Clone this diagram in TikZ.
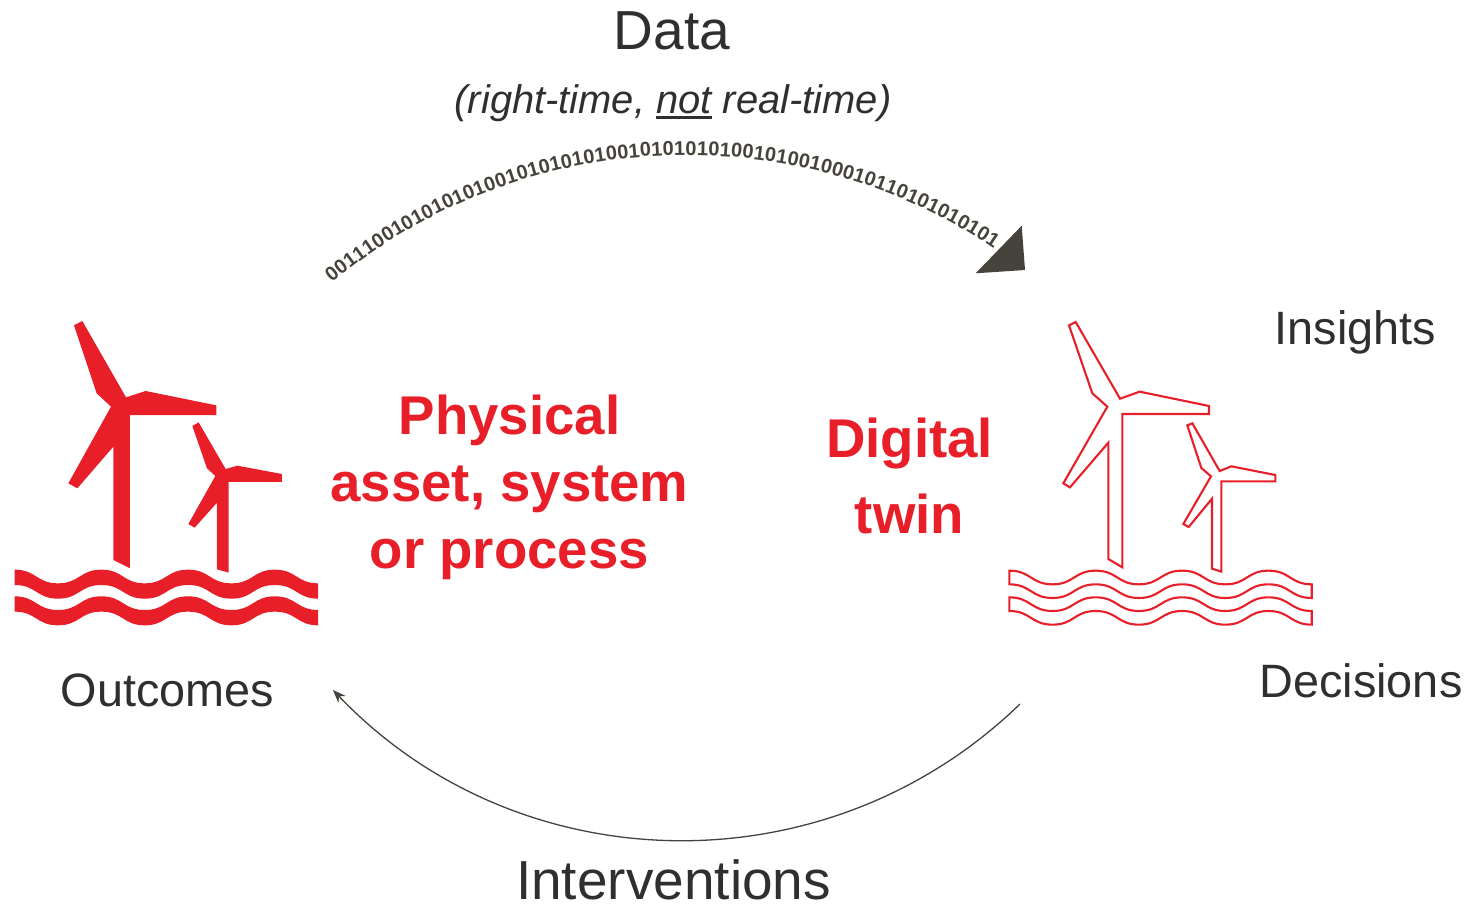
\documentclass[tikz,border=0pt]{standalone}
\usepackage{fontspec}
\setmainfont{Liberation Sans}
\usetikzlibrary{arrows.meta,decorations.text}
\definecolor{assetred}{HTML}{E81F29}
\definecolor{labeltxt}{HTML}{2F2F2F}
\definecolor{arrowgrey}{HTML}{46423C}
\newsavebox\notbox
\newcommand{\ulnot}{\sbox\notbox{not}\rlap{\rule[-5.2pt]{\wd\notbox}{2.8pt}}\usebox\notbox}
\newcommand{\waveband}[4]{% x0, ytop, half period, amplitude; thickness in \wavethick
  (#1,#2)
  .. controls +({#3/2},0) and +({-#3/2},0) .. ++(#3,#4)
  .. controls +({#3/2},0) and +({-#3/2},0) .. ++(#3,-#4)
  .. controls +({#3/2},0) and +({-#3/2},0) .. ++(#3,#4)
  .. controls +({#3/2},0) and +({-#3/2},0) .. ++(#3,-#4)
  .. controls +({#3/2},0) and +({-#3/2},0) .. ++(#3,#4)
  .. controls +({#3/2},0) and +({-#3/2},0) .. ++(#3,-#4)
  .. controls +({#3/2},0) and +({-#3/2},0) .. ++(#3,#4)
  -- ++(0,\wavethick)
  .. controls +({-#3/2},0) and +({#3/2},0) .. ++(-#3,-#4)
  .. controls +({-#3/2},0) and +({#3/2},0) .. ++(-#3,#4)
  .. controls +({-#3/2},0) and +({#3/2},0) .. ++(-#3,-#4)
  .. controls +({-#3/2},0) and +({#3/2},0) .. ++(-#3,#4)
  .. controls +({-#3/2},0) and +({#3/2},0) .. ++(-#3,-#4)
  .. controls +({-#3/2},0) and +({#3/2},0) .. ++(-#3,#4)
  .. controls +({-#3/2},0) and +({#3/2},0) .. ++(-#3,-#4)
  -- cycle}
\tikzset{
  solidicon/.style={fill=assetred,draw=none},
  outlineicon/.style={fill=white,draw=assetred,line width=2.1pt,line join=miter},
  lbl/.style={inner sep=0pt,anchor=base,text=labeltxt,font=\fontsize{46.8}{50}\selectfont},
  biglbl/.style={inner sep=0pt,anchor=base,text=labeltxt,font=\fontsize{55}{60}\selectfont},
  sublbl/.style={inner sep=0pt,anchor=base,text=labeltxt,font=\fontsize{39.9}{46}\selectfont\itshape},
  redlbl/.style={inner sep=0pt,align=center,text=assetred,font=\fontsize{54.6}{#1}\selectfont\bfseries},
  flow/.style={draw=arrowgrey,line width=1.3pt,-{Stealth[length=13pt,width=10pt]}},
}
\begin{document}
\begin{tikzpicture}[x=1pt,y=-1pt]
\useasboundingbox (0,0) rectangle (1470,904);

% Physical asset icon
\begin{scope}[shift={(0,310)},x=0.33333pt,y=-0.33333pt]
  \fill[solidicon] (222,46) -- (247,33) -- (378,262) -- (437,243) -- (649,286) -- (649,315) -- (390,315) -- (390,775) -- (340,750) -- (340,410) -- (232,535) -- (205,520) -- (333,290) -- (290,250) -- cycle;
  \fill[solidicon] (577,348) -- (596,337) -- (677,477) -- (712,467) -- (846,492) -- (846,516) -- (686,516) -- (686,788) -- (651,778) -- (651,578) -- (584,653) -- (565,642) -- (646,498) -- (621,475) -- cycle;
  \def\wavethick{46}
  \fill[solidicon] \waveband{44}{779}{130.1}{41};
  \fill[solidicon] \waveband{44}{859}{130.1}{41};
\end{scope}

% Digital twin icon
\begin{scope}[shift={(1000,310)},x=0.33333pt,y=-0.33333pt]
  \path[outlineicon] (207,46) -- (227,36) -- (360,266) -- (419,245) -- (627,288) -- (627,312) -- (367,312) -- (367,772) -- (325,747) -- (325,398) -- (210,532) -- (190,520) -- (322,290) -- (277,250) -- cycle;
  \path[outlineicon] (562,346) -- (577,340) -- (659,483) -- (694,469) -- (826,495) -- (826,514) -- (664,514) -- (664,785) -- (636,776) -- (636,566) -- (566,651) -- (550,642) -- (633,499) -- (604,474) -- cycle;
  \def\wavethick{41}
  \path[outlineicon] \waveband{28}{782}{129.6}{41};
  \path[outlineicon] \waveband{28}{862}{129.6}{41};
\end{scope}

% Labels
\node[biglbl] (data) at (672,50) {Data};
\node[sublbl] (datasub) at (673,114) {(right-time, \ulnot{} real-time)};
\node[lbl] (insights) at (1355.5,344.5) {Insights};
\node[lbl] (decisions) at (1361,697.5) {Decisions};
\node[lbl] (outcomes) at (167.5,706.5) {Outcomes};
\node[biglbl] (interventions) at (673.5,899) {Interventions};
\node[redlbl=67] (physical) at (509.5,487.5) {Physical\\asset, system\\or process};
\node[redlbl=76] (twin) at (909.5,476) {Digital\\twin};

% Data stream
\coordinate (streamstart) at (332,283);
\coordinate (streamend) at (993,248);
\path[decorate,decoration={text along path,text align=fit to path,
  text={|\fontsize{20}{20}\selectfont\bfseries\color{arrowgrey}|001110010101010100101010101001010101010010100100010110101010101}}]
  (streamstart) .. controls (519.4,126.8) and (790,112) .. (streamend);
\coordinate (tipa) at (1021.7,225.7);
\coordinate (tipb) at (1025,270);
\coordinate (tipc) at (975.7,273.3);
\fill[arrowgrey] (tipa) -- (tipb) -- (tipc) -- cycle;

% Interventions arc
\coordinate (actstart) at (1020,704);
\coordinate (actend) at (333,690);
\draw[flow] (actstart) .. controls (827,891) and (518.3,884.2) .. (actend);
\end{tikzpicture}
\end{document}
